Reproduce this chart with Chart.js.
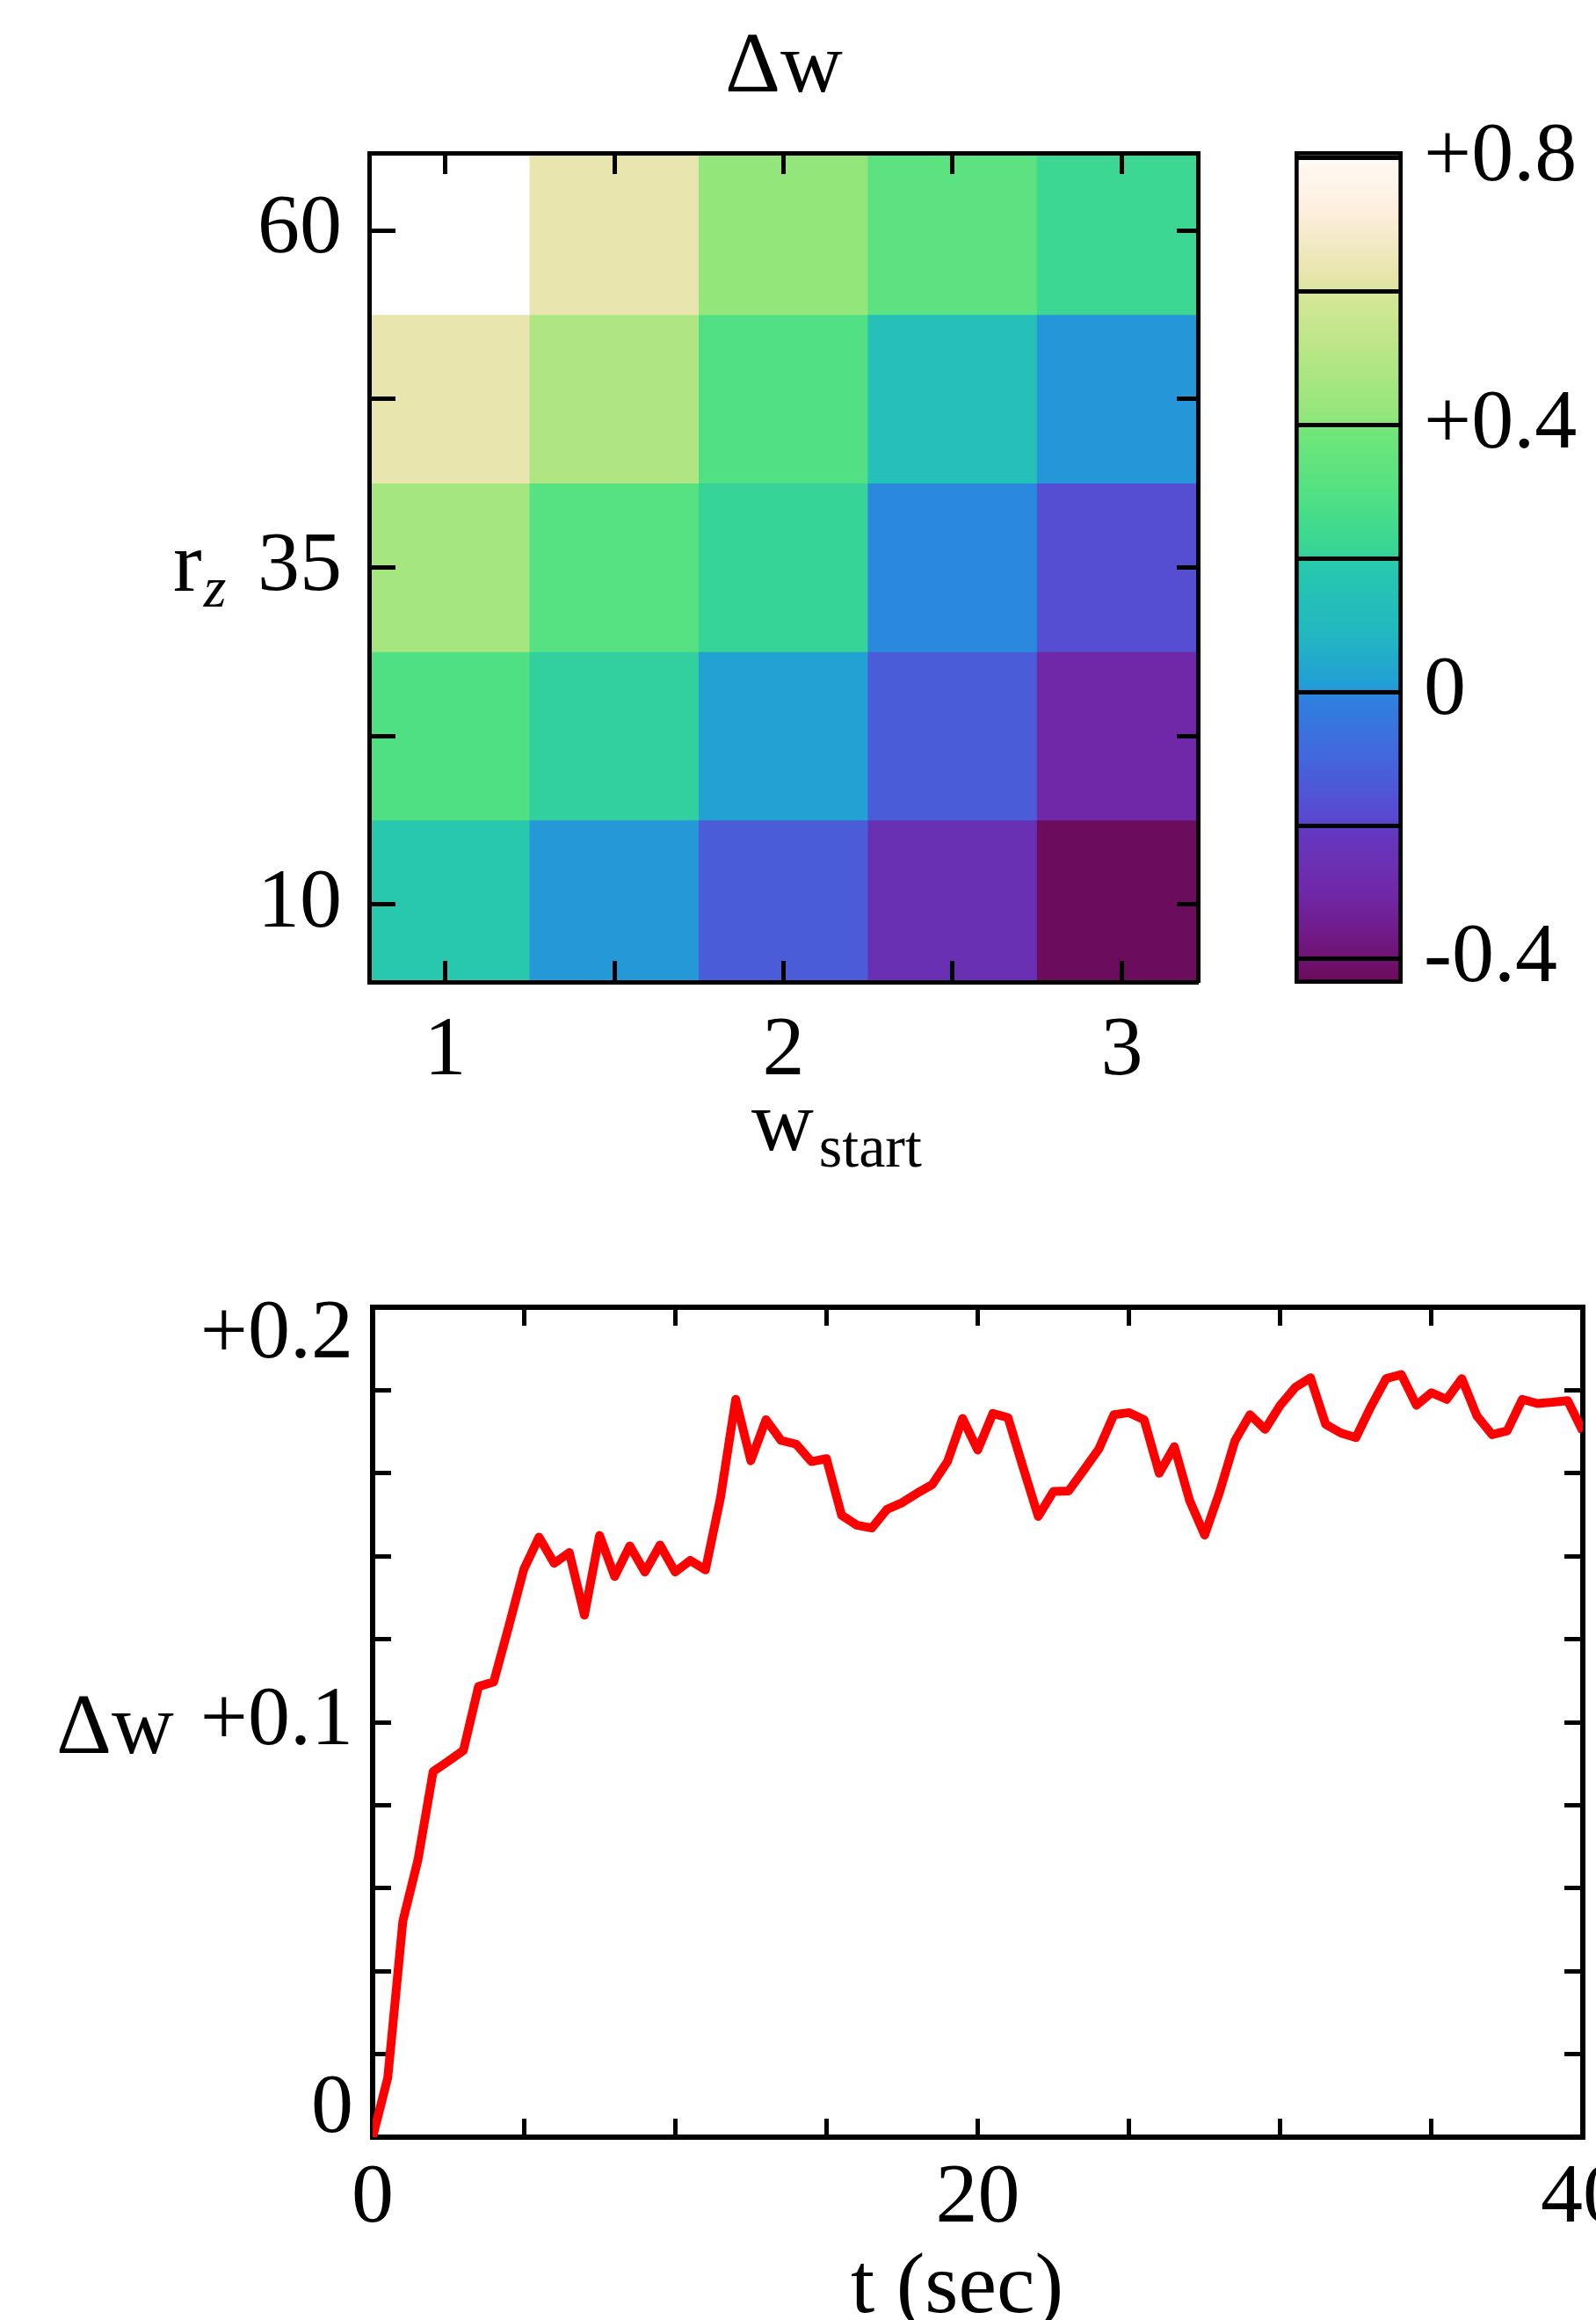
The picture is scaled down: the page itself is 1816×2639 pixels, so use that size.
<!DOCTYPE html>
<html>
<head>
<meta charset="utf-8">
<script src="https://cdn.jsdelivr.net/npm/chart.js@4.4.1/dist/chart.umd.min.js"></script>
<style>
  html, body { margin: 0; padding: 0; background: #fff; }
  body { width: 1816px; height: 2639px; overflow: hidden; position: relative; }
  canvas { position: absolute; }
  #heat { left: 0; top: 0; }
  #cbar { left: 1400px; top: 0; }
  #trace { left: 0; top: 1300px; }
</style>
</head>
<body>
<canvas id="heat" width="1400" height="1400"></canvas>
<canvas id="cbar" width="416" height="1300"></canvas>
<canvas id="trace" width="1900" height="1400"></canvas>
<script>
// ---- heat map: Δw over w_start x r_z ----
var wStart = [1, 1.5, 2, 2.5, 3];
var rz = [60, 47.5, 35, 22.5, 10];
var dwRz60 = [0.81, 0.63, 0.41, 0.328, 0.228];
var dwRz47 = [0.63, 0.489, 0.295, 0.14, 0.005];
var dwRz35 = [0.463, 0.309, 0.21, -0.004, -0.172];
var dwRz22 = [0.29, 0.203, 0.02, -0.13, -0.30];
var dwRz10 = [0.19, 0.006, -0.13, -0.255, -0.43];
var dwRows = [dwRz60, dwRz47, dwRz35, dwRz22, dwRz10];
var wTicks = [1, 1.5, 2, 2.5, 3];
var wTickLabels = ['1', '', '2', '', '3'];
var rzTicks = [10, 22.5, 35, 47.5, 60];
var rzTickLabels = ['10', '', '35', '', '60'];

// ---- colour bar ----
var cbRange = [-0.437, 0.81];
var cbTicks = [-0.4, -0.2, 0, 0.2, 0.4, 0.6, 0.8];
var cbTickLabels = ['-0.4', '', '0', '', '+0.4', '', '+0.8'];

// ---- time trace ----
var tSec = [0, 0.5, 1, 1.5, 2, 2.5, 3, 3.5, 4, 4.5,
            5, 5.5, 6, 6.5, 7, 7.5, 8, 8.5, 9, 9.5,
            10, 10.5, 11, 11.5, 12, 12.5, 13, 13.5, 14, 14.5,
            15, 15.5, 16, 16.5, 17, 17.5, 18, 18.5, 19, 19.5,
            20, 20.5, 21, 21.5, 22, 22.5, 23, 23.5, 24, 24.5,
            25, 25.5, 26, 26.5, 27, 27.5, 28, 28.5, 29, 29.5,
            30, 30.5, 31, 31.5, 32, 32.5, 33, 33.5, 34, 34.5,
            35, 35.5, 36, 36.5, 37, 37.5, 38, 38.5, 39, 39.5,
            40];
var dwT = [0, 0.0143, 0.0521, 0.0669, 0.0881, 0.0906, 0.0932, 0.1086, 0.1097, 0.1231,
           0.1369, 0.1446, 0.1383, 0.1409, 0.1258, 0.1450, 0.1351, 0.1425, 0.1362, 0.1427,
           0.1362, 0.1390, 0.1367, 0.1542, 0.1778, 0.1630, 0.1729, 0.1679, 0.1670, 0.1628,
           0.1635, 0.1499, 0.1475, 0.1468, 0.1513, 0.1529, 0.1552, 0.1573, 0.1628, 0.1732,
           0.1656, 0.1744, 0.1734, 0.1614, 0.1496, 0.1556, 0.1557, 0.1607, 0.1658, 0.1741,
           0.1746, 0.1729, 0.1600, 0.1664, 0.1535, 0.1451, 0.1556, 0.1678, 0.1741, 0.1706,
           0.1764, 0.1807, 0.1830, 0.1718, 0.1697, 0.1686, 0.1761, 0.1828, 0.1838, 0.1764,
           0.1794, 0.1778, 0.1828, 0.1738, 0.1693, 0.1702, 0.1778, 0.1768, 0.1771, 0.1775,
           0.1701];
var tTicks = [0, 5, 10, 15, 20, 25, 30, 35, 40];
var tTickLabels = ['0', '', '', '', '20', '', '', '', '40'];
var dwTicks = [0, 0.02, 0.04, 0.06, 0.08, 0.1, 0.12, 0.14, 0.16, 0.18, 0.2];
// two-line labels push the end labels inside the frame
var dwTickLabels = [['0', ''], '', '', '', '', '+0.1', '', '', '', '', ['', '+0.2']];

// colour map sampled from the colour bar
var cmapStops = [
    [-0.44, '#6a0a56'], [-0.39, '#701478'], [-0.30, '#7028a8'], [-0.21, '#6438c0'],
    [-0.19, '#5a48d0'], [-0.10, '#4366dc'], [-0.01, '#2f80e0'], [0.01, '#229ed6'],
    [0.09, '#22b8c0'], [0.19, '#27c8ae'], [0.21, '#36d496'], [0.29, '#50e084'],
    [0.39, '#70e67a'], [0.41, '#92e67a'], [0.51, '#b8e684'], [0.60, '#d8e69a'],
    [0.62, '#e6e4aa'], [0.72, '#fdeedd'], [0.80, '#fffaf6'], [0.81, '#ffffff']
];

function hexRgb(h) {
    return [parseInt(h.slice(1, 3), 16), parseInt(h.slice(3, 5), 16), parseInt(h.slice(5, 7), 16)];
}

function cmap(v) {
    var s = cmapStops;
    if (v <= s[0][0]) return s[0][1];
    if (v >= s[s.length - 1][0]) return s[s.length - 1][1];
    for (var i = 1; i < s.length; i++) {
        if (v <= s[i][0]) {
            var f = (v - s[i - 1][0]) / (s[i][0] - s[i - 1][0]);
            var a = hexRgb(s[i - 1][1]), b = hexRgb(s[i][1]);
            return 'rgb(' + [0, 1, 2].map(function (k) { return Math.round(a[k] + (b[k] - a[k]) * f); }).join(',') + ')';
        }
    }
}

// axis titles with subscripts
var axisText = {
    id: 'axisText',
    afterDraw: function (chart, args, opts) {
        var ctx = chart.ctx;
        ctx.save();
        ctx.fillStyle = '#000';
        ctx.textBaseline = 'alphabetic';
        ctx.textAlign = 'left';
        (opts.items || []).forEach(function (it) {
            var x = it.x;
            if (it.center) {
                var w = 0;
                it.parts.forEach(function (p) { ctx.font = p.font; w += ctx.measureText(p.text).width + (p.gap || 0); });
                x -= w / 2;
            }
            it.parts.forEach(function (p) {
                ctx.font = p.font;
                x += p.gap || 0;
                ctx.fillText(p.text, x, it.y + (p.dy || 0));
                x += ctx.measureText(p.text).width;
            });
        });
        ctx.restore();
    }
};

var serif = '"Liberation Serif", "Times New Roman", serif';
var bigFont = '98px ' + serif;
var tickFont = { family: serif, size: 96 };

function setTicks(list) {
    return function (scale) { scale.ticks = list.map(function (v) { return { value: v }; }); };
}

function frameScale(pos, min, max, ticks, labels, tickLen, pad, size, borderW, z) {
    return {
        type: 'linear', position: pos, min: min, max: max, offset: false,
        afterBuildTicks: setTicks(ticks),
        afterFit: function (s) { if (pos === 'left' || pos === 'right') s.width = size; else s.height = size; },
        border: { display: true, color: '#000', width: borderW, z: z },
        grid: { display: true, offset: false, drawOnChartArea: false, drawTicks: true, tickLength: -tickLen, tickWidth: 5, tickColor: '#000', z: z },
        ticks: {
            display: !!labels, autoSkip: false, maxRotation: 0, minRotation: 0, padding: pad,
            color: '#000', font: tickFont,
            callback: function (v, i) { return labels ? labels[i] : ''; }
        }
    };
}

// ---- heat map chart ----
var rzStep = rz[0] - rz[1];
var heatSets = rz.map(function (r, ri) {
    return {
        data: wStart.map(function (w, wi) { return { x: w, y: [r - rzStep / 2, r + rzStep / 2], v: dwRows[ri][wi] }; }),
        backgroundColor: function (c) { return c.raw ? cmap(c.raw.v) : '#fff'; },
        borderWidth: 0,
        grouped: false,
        categoryPercentage: 1,
        barPercentage: 1,
        clip: 0
    };
});

new Chart(document.getElementById('heat'), {
    type: 'bar',
    data: { datasets: heatSets },
    plugins: [axisText],
    options: {
        responsive: false,
        animation: false,
        layout: { padding: { top: 174, right: 37, left: 0, bottom: 0 } },
        scales: {
            x: frameScale('bottom', 0.775, 3.225, wTicks, wTickLabels, 24, 46, 283, 5, 1),
            x2: frameScale('top', 0.775, 3.225, wTicks, null, 24, 0, 0, 5, 1),
            y: frameScale('left', 4.25, 65.75, rzTicks, rzTickLabels, 30, 61, 420, 5, 1),
            y2: frameScale('right', 4.25, 65.75, rzTicks, null, 24, 0, 0, 5, 1)
        },
        plugins: {
            legend: { display: false },
            tooltip: { enabled: false },
            axisText: {
                items: [
                    { x: 892, y: 104, center: true, parts: [{ text: '\u0394w', font: bigFont }] },
                    { x: 855, y: 1308, parts: [{ text: 'w', font: bigFont }, { text: 'start', font: '68px ' + serif, dy: 19, gap: 6 }] },
                    { x: 197, y: 672, parts: [{ text: 'r', font: bigFont }, { text: 'z', font: 'italic 66px ' + serif, dy: 18, gap: 2 }] }
                ]
            }
        }
    }
});

// ---- colour bar chart ----
new Chart(document.getElementById('cbar'), {
    type: 'bar',
    data: {
        labels: [''],
        datasets: [{
            data: [cbRange],
            backgroundColor: function (c) {
                var chart = c.chart;
                if (!chart.chartArea) return '#fff';
                var y = chart.scales.y;
                var lo = y.getPixelForValue(cbRange[0]), hi = y.getPixelForValue(cbRange[1]);
                var g = chart.ctx.createLinearGradient(0, lo, 0, hi);
                cmapStops.forEach(function (s) {
                    var f = (s[0] - cbRange[0]) / (cbRange[1] - cbRange[0]);
                    g.addColorStop(Math.min(1, Math.max(0, f)), s[1]);
                });
                return g;
            },
            borderColor: '#000',
            borderWidth: 5,
            borderSkipped: false,
            categoryPercentage: 1,
            barPercentage: 1
        }]
    },
    options: {
        responsive: false,
        animation: false,
        layout: { padding: { top: 172, right: 0, left: 73, bottom: 181 } },
        scales: {
            x: { display: false, afterFit: function (s) { s.height = 0; } },
            y: {
                position: 'right', min: cbRange[0], max: cbRange[1],
                afterBuildTicks: setTicks(cbTicks),
                afterFit: function (s) { s.width = 220; },
                border: { display: false },
                grid: { drawOnChartArea: true, drawTicks: false, color: '#000', lineWidth: 5, z: 1 },
                ticks: {
                    autoSkip: false, padding: 24, color: '#000', font: tickFont,
                    callback: function (v, i) { return cbTickLabels[i]; }
                }
            }
        },
        plugins: { legend: { display: false }, tooltip: { enabled: false } }
    }
});

// ---- Δw(t) trace ----
var lineTickFont = { family: serif, size: 96, lineHeight: 0.66 };
var yLeft = frameScale('left', 0, 0.2, dwTicks, dwTickLabels, 21, 43, 424, 6, 0);
yLeft.ticks.font = lineTickFont;

new Chart(document.getElementById('trace'), {
    type: 'line',
    data: {
        datasets: [{
            data: tSec.map(function (t, i) { return { x: t, y: dwT[i] }; }),
            borderColor: '#ff0000',
            borderWidth: 10,
            borderJoinStyle: 'round',
            pointRadius: 0,
            tension: 0,
            fill: false
        }]
    },
    plugins: [axisText],
    options: {
        responsive: false,
        animation: false,
        layout: { padding: { top: 187, right: 99, left: 0, bottom: 0 } },
        scales: {
            x: frameScale('bottom', 0, 40, tTicks, tTickLabels, 21, 34, 269, 6, 0),
            x2: frameScale('top', 0, 40, tTicks, null, 21, 0, 0, 6, 0),
            y: yLeft,
            y2: frameScale('right', 0, 0.2, dwTicks, null, 21, 0, 0, 6, 0)
        },
        plugins: {
            legend: { display: false },
            tooltip: { enabled: false },
            axisText: {
                items: [
                    { x: 64, y: 694, parts: [{ text: '\u0394w', font: bigFont }] },
                    { x: 968, y: 1330, parts: [{ text: 't (sec)', font: bigFont }] }
                ]
            }
        }
    }
});
</script>
</body>
</html>
